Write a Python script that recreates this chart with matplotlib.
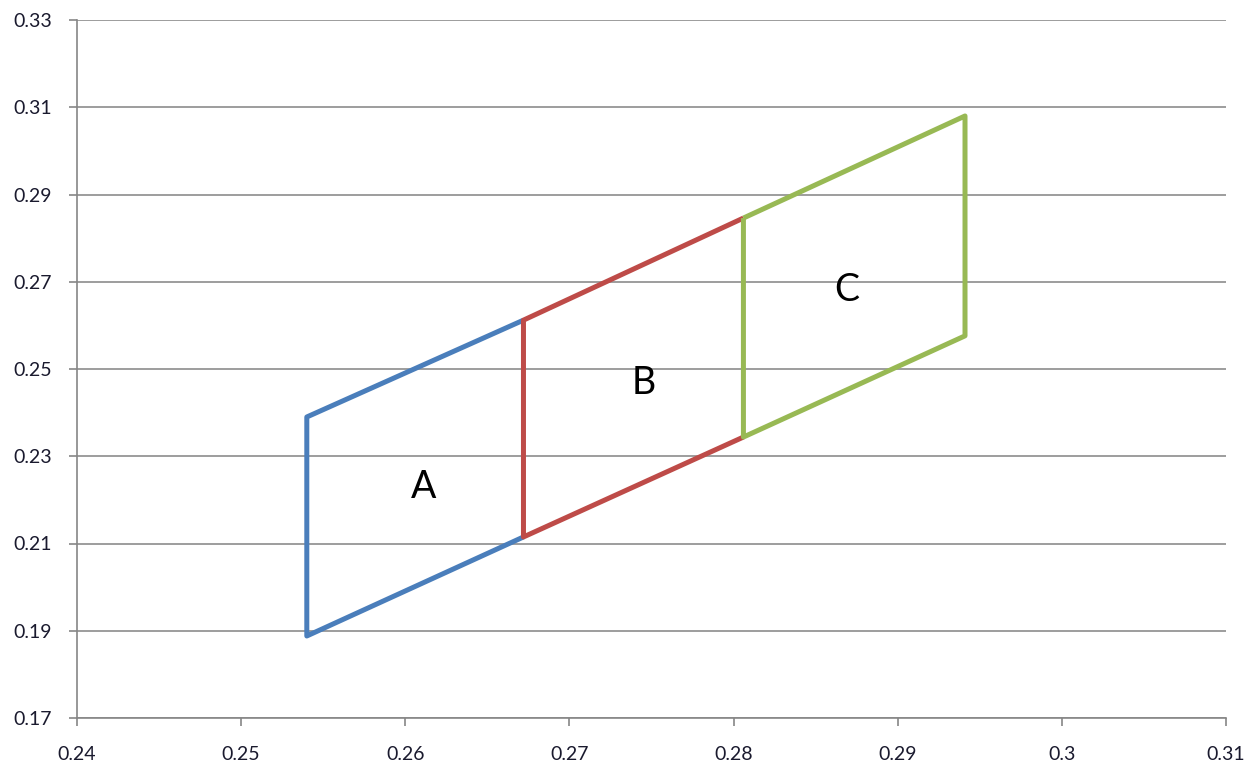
import matplotlib
matplotlib.use('Agg')
import matplotlib.pyplot as plt
import numpy as np

# corner points of each parallelogram
a_x = [0.2672, 0.2540, 0.2540, 0.2672]
a_y = [0.2612, 0.2390, 0.1888, 0.2115]
b_x = [0.2806, 0.2672, 0.2672, 0.2806]
b_y = [0.2846, 0.2612, 0.2115, 0.2344]
c_x = [0.2806, 0.2806, 0.2941, 0.2941, 0.2806]
c_y = [0.2846, 0.2344, 0.2576, 0.3080, 0.2846]

labels = ['A', 'B', 'C']
label_x = [0.2611, 0.2745, 0.2869]
label_y = [0.2230, 0.2468, 0.2681]

x_ticks = [0.24, 0.25, 0.26, 0.27, 0.28, 0.29, 0.3, 0.31]
y_ticks = [0.17, 0.19, 0.21, 0.23, 0.25, 0.27, 0.29, 0.31, 0.33]

plt.rcParams['font.family'] = ['Lato', 'DejaVu Sans']

fig = plt.figure(figsize=(12.58, 7.69), dpi=100)
ax = fig.add_axes([77/1258, 1 - 718/769, (1226 - 77)/1258, (718 - 20)/769])

ax.plot(a_x, a_y, color='#4a7ebb', lw=3.6, solid_capstyle='butt', zorder=3)
ax.plot(b_x, b_y, color='#be4b48', lw=3.6, solid_capstyle='butt', zorder=4)
ax.plot(c_x, c_y, color='#98b954', lw=3.6, solid_capstyle='butt', zorder=5)

for t, x, y in zip(labels, label_x, label_y):
    ax.text(x, y, t, fontsize=27, ha='center', va='center', color='black')

ax.set_xlim(0.24, 0.31)
ax.set_ylim(0.17, 0.33)
ax.set_xticks(x_ticks)
ax.set_yticks(y_ticks)
ax.set_xticklabels([('%g' % v) for v in x_ticks])
ax.set_yticklabels([('%g' % v) for v in y_ticks])

ax.yaxis.grid(True, color='#8c8c8c', lw=1.2)
ax.set_axisbelow(True)
for s in ['top', 'right']:
    ax.spines[s].set_visible(False)
for s in ['left', 'bottom']:
    ax.spines[s].set_color('#868686')
    ax.spines[s].set_linewidth(1.2)
ax.tick_params(axis='both', direction='out', length=6, width=1.2, color='#868686',
               labelsize=14, labelcolor='#1a1a2e')
ax.tick_params(axis='x', pad=14)
ax.tick_params(axis='y', pad=12)

fig.savefig('out.png', dpi=100)
